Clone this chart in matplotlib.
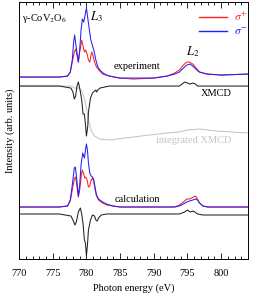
import numpy as np
import matplotlib
matplotlib.use("Agg")
import matplotlib.pyplot as plt

plt.rcParams['font.family'] = ['Liberation Serif', 'DejaVu Serif']
plt.rcParams['mathtext.fontset'] = 'stix'

# experiment, sigma- (blue)
exp_minus_e = [770, 774, 776, 777.2, 777.6, 777.9, 778.1, 778.25, 778.5, 778.8, 779.0, 779.2, 779.4,
               779.6, 779.8, 780.0, 780.2, 780.5, 780.65, 780.8, 781.0, 781.1, 781.4, 781.7, 782.0,
               782.3, 782.7, 783.4, 784.9, 787, 790, 792, 793.1, 793.8, 794.4, 794.9, 795.4, 795.8,
               796.4, 796.8, 797.9, 800, 804]
exp_minus_i = [182, 182, 182, 183, 187, 199, 217, 224, 211, 197, 209, 229, 240,
               237, 244, 251, 241, 226, 219, 216, 211, 209, 199, 192, 189,
               187, 185, 183, 181, 181, 181, 183, 185, 187, 191, 194, 195, 193,
               189, 187, 185, 184, 185]

# experiment, sigma+ (red)
exp_plus_e = [770, 776, 777.2, 777.6, 777.9, 778.2, 778.4, 778.6, 778.8, 779.0, 779.3, 779.5, 779.7,
              779.9, 780.1, 780.3, 780.5, 780.65, 780.8, 781.0, 781.2, 781.5, 782.0, 782.4, 783.4,
              785, 787, 790, 792, 793.1, 793.8, 794.4, 794.9, 795.3, 795.8, 796.4, 796.8, 797.9,
              800, 804]
exp_plus_i = [182, 182, 183, 187, 197, 207, 210, 204, 197, 207, 219, 213, 207,
              209, 205, 199, 197, 203, 207, 203, 197, 192, 188, 185, 183,
              181, 180, 181, 183, 186, 189, 194, 197, 197, 195, 190, 187, 185,
              184, 185]

# experimental XMCD
xmcd_exp_e = [770, 776, 777.7, 778.0, 778.2, 778.4, 778.6, 778.8, 779.0, 779.3, 779.5, 779.7, 779.85,
              780.0, 780.2, 780.3, 780.6, 780.9, 781.2, 781.4, 781.5, 781.7, 782.0, 783.4, 790,
              793.8, 794.6, 795.0, 795.4, 795.8, 796.2, 796.5, 804]
xmcd_exp_i = [173, 173, 171, 167, 160, 163, 173, 177, 171, 159, 145, 145, 135,
              123, 133, 147, 161, 166, 168, 169, 167, 169, 171, 173, 173,
              173, 177, 176, 175, 176, 175, 173, 173]

# integrated XMCD
int_e = [770, 777.8, 778.2, 778.8, 779.3, 779.7, 780.0, 780.3, 780.6, 780.8, 781.2, 782.0, 783.4,
         784.5, 786.9, 789.4, 791.9, 793.8, 794.9, 796.8, 799.3, 801.7, 804]
int_i = [173, 173, 171, 171, 168, 161, 151, 139, 131, 127, 123, 120, 119,
         120, 122, 124, 126, 127, 129, 130, 128, 127, 126]

# calculation, sigma- (blue)
calc_minus_e = [770, 776, 777.2, 777.6, 777.9, 778.2, 778.35, 778.5, 778.8, 779.0, 779.2, 779.45,
                779.6, 779.7, 779.9, 780.0, 780.15, 780.3, 780.5, 780.7, 780.9, 781.1, 781.3, 781.5,
                781.8, 782.4, 783.0, 783.9, 785, 790, 793.1, 793.8, 794.4, 794.9, 795.3, 795.8,
                796.2, 796.5, 796.8, 797.3, 798, 804]
calc_minus_i = [52, 52, 53, 59, 74, 91, 92, 84, 63, 74, 94, 106,
                103, 101, 111, 115, 109, 96, 86, 83, 82, 79, 71, 64,
                60, 57, 55, 53, 52, 52, 52, 53, 55, 57, 58, 59,
                60, 59, 56, 53, 52, 52]

# calculation, sigma+ (red)
calc_plus_e = [770, 776, 777.2, 777.6, 777.9, 778.2, 778.35, 778.5, 778.8, 779.0, 779.25, 779.4,
               779.6, 779.75, 779.9, 780.1, 780.3, 780.5, 780.7, 780.9, 781.1, 781.3, 781.5, 781.8,
               782.4, 783.0, 784, 785, 793.1, 793.8, 794.4, 794.9, 795.3, 795.6, 795.9, 796.2,
               796.5, 796.8, 797.3, 798, 804]
calc_plus_i = [52, 52, 53, 58, 69, 80, 82, 77, 62, 69, 84, 89,
               85, 81, 82, 79, 72, 73, 79, 81, 77, 69, 63, 59,
               56, 54, 53, 52, 52, 54, 57, 60, 60, 61, 62, 63,
               60, 56, 53, 52, 52]

# calculated XMCD
xmcd_calc_e = [770, 776, 777.7, 778.0, 778.3, 778.5, 778.8, 779.1, 779.3, 779.5, 779.7, 779.85,
               780.0, 780.15, 780.3, 780.6, 780.9, 781.2, 781.4, 781.6, 781.8, 782.2, 783, 793.8,
               794.6, 795.0, 795.4, 795.9, 796.5, 797.3, 804]
xmcd_calc_i = [45, 45, 43, 39, 34, 37, 47, 51, 45, 35, 19, 16,
               3, 14, 29, 39, 44, 43, 39, 38, 41, 44, 45, 45,
               47, 49, 47, 48, 45, 44, 44]

RED = '#ff2020'
BLUE = '#2020ff'
lw = 0.75

fig = plt.figure(figsize=(2.69, 2.97), dpi=100)
ax = fig.add_axes([0.071, 0.128, 0.851, 0.865])

ax.plot(exp_plus_e, exp_plus_i, color=RED, lw=lw, label=r'$\sigma^{+}$')
ax.plot(exp_minus_e, exp_minus_i, color=BLUE, lw=lw, label=r'$\sigma^{-}$')
ax.plot(int_e, int_i, color='#c4c4c4', lw=lw)
ax.plot(xmcd_exp_e, xmcd_exp_i, color='#222222', lw=lw)
ax.plot(calc_plus_e, calc_plus_i, color=RED, lw=lw)
ax.plot(calc_minus_e, calc_minus_i, color=BLUE, lw=lw)
ax.plot(xmcd_calc_e, xmcd_calc_i, color='#222222', lw=lw)

ax.set_xlim(770, 804)
ax.set_ylim(0, 257)
ax.set_xticks(np.arange(770, 801, 5))
ax.set_xticks(np.arange(770, 805, 1), minor=True)
ax.set_yticks([])
ax.tick_params(axis='x', which='both', direction='in', top=True, labelsize=7.5, width=0.6, pad=7)
ax.tick_params(axis='x', which='major', length=4)
ax.tick_params(axis='x', which='minor', length=2)
for s in ax.spines.values():
    s.set_linewidth(0.7)

ax.set_xlabel('Photon energy (eV)', fontsize=7.5, labelpad=4)
ax.set_ylabel('Intensity (arb. units)', fontsize=7.5, labelpad=3)

ax.text(770.5, 241, r'γ-CoV$_2$O$_6$', fontsize=7.5, va='center', ha='left')
ax.text(781.5, 242, r'$L_3$', fontsize=9, va='center', ha='center')
ax.text(795.8, 207, r'$L_2$', fontsize=9, va='center', ha='center')
ax.text(787.5, 193, 'experiment', fontsize=7.5, va='center', ha='center')
ax.text(799.3, 166, 'XMCD', fontsize=7.5, va='center', ha='center')
ax.text(796.0, 119, 'integrated XMCD', fontsize=7.5, va='center', ha='center', color='#c4c4c4')
ax.text(787.5, 60, 'calculation', fontsize=7.5, va='center', ha='center')

leg = ax.legend(loc='upper right', bbox_to_anchor=(1.035, 1.0), frameon=False, fontsize=8.5,
                handlelength=2.4, labelcolor='linecolor', borderaxespad=0.3, handletextpad=0.6,
                labelspacing=0.2)
for h in leg.get_lines():
    h.set_linewidth(1.0)

fig.savefig('out.png', dpi=100)
